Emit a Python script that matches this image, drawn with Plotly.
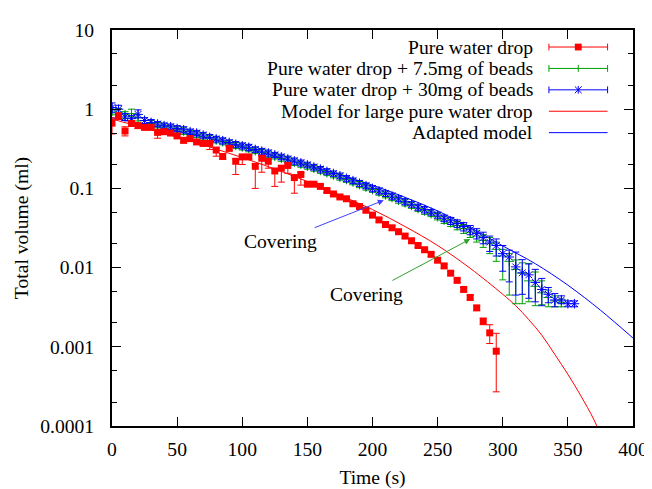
import plotly.graph_objects as go
import math

# ---------------- data ----------------
red_t = [0, 5, 10, 15, 20, 25, 30, 35, 40, 45, 50, 55, 60, 65, 70, 75, 80, 85, 90, 95,
         100, 105, 110, 115, 120, 125, 130, 135, 140, 145, 150, 155, 160, 165, 170, 175, 180, 185, 190, 195,
         200, 205, 210, 215, 220, 225, 230, 235, 240, 245, 250, 255, 260, 265, 270, 275, 280, 285, 290, 295]
red_v = [0.667, 0.82, 0.53, 0.66, 0.62, 0.59, 0.59, 0.51, 0.52, 0.50, 0.46, 0.405, 0.425, 0.386, 0.37, 0.37, 0.305, 0.253, 0.32, 0.22,
         0.25, 0.25, 0.19, 0.24, 0.22, 0.166, 0.18, 0.195, 0.137, 0.15, 0.113, 0.113, 0.106, 0.094, 0.085, 0.078, 0.074, 0.064, 0.059, 0.053,
         0.046, 0.040, 0.035, 0.0318, 0.0284, 0.025, 0.0218, 0.019, 0.0168, 0.0147, 0.0124, 0.0105, 0.0085, 0.0069, 0.0053, 0.0042, 0.0031, 0.0021, 0.0015, 0.00088]
red_hi = [0.11, 0.08, 0.07, 0.04, 0.05, 0.04, 0.04, 0.03, 0.04, 0.03, 0.03, 0.03, 0.03, 0.025, 0.025, 0.025, 0.02, 0.02, 0.02, 0.015,
          0.015, 0.015, 0.012, 0.015, 0.012, 0.01, 0.01, 0.01, 0.008, 0.008, 0.006, 0.006, 0.005, 0.005, 0.004, 0.004, 0.004, 0.003, 0.003, 0.003,
          0.003, 0.002, 0.002, 0.002, 0.0015, 0.0015, 0.0012, 0.001, 0.001, 0.0009, 0.0007, 0.0006, 0.0005, 0.0004, 0.0003, 0.0003, 0.0002, 0.0002, 0.0004, 0.0006]
red_lo = [0.18, 0.08, 0.07, 0.04, 0.05, 0.04, 0.04, 0.08, 0.04, 0.03, 0.03, 0.03, 0.03, 0.025, 0.025, 0.06, 0.05, 0.02, 0.02, 0.07,
          0.05, 0.015, 0.09, 0.08, 0.04, 0.06, 0.06, 0.04, 0.05, 0.04, 0.006, 0.006, 0.005, 0.005, 0.004, 0.004, 0.004, 0.003, 0.003, 0.003,
          0.003, 0.002, 0.002, 0.002, 0.0015, 0.0015, 0.0012, 0.001, 0.001, 0.0009, 0.0007, 0.0006, 0.0005, 0.0004, 0.0003, 0.0003, 0.0002, 0.0002, 0.0004, 0.00061]

blue_t = [0, 5, 10, 15, 20, 25, 30, 35, 40, 45, 50, 55, 60, 65, 70, 75, 80, 85, 90, 95,
          100, 105, 110, 115, 120, 125, 130, 135, 140, 145, 150, 155, 160, 165, 170, 175, 180, 185, 190, 195,
          200, 205, 210, 215, 220, 225, 230, 235, 240, 245, 250, 255, 260, 265, 270, 275, 280, 285, 290, 295,
          300, 305, 310, 315, 320, 325, 330, 335, 340, 345, 350, 355]
blue_v = [1.05, 1.00, 0.80, 0.76, 0.86, 0.72, 0.68, 0.65, 0.62, 0.60, 0.57, 0.55, 0.52, 0.50, 0.47, 0.44, 0.42, 0.40, 0.38, 0.36,
          0.345, 0.33, 0.31, 0.295, 0.28, 0.265, 0.25, 0.235, 0.222, 0.21, 0.198, 0.186, 0.175, 0.164, 0.154, 0.144, 0.134, 0.125, 0.116, 0.108,
          0.100, 0.093, 0.086, 0.080, 0.074, 0.068, 0.063, 0.058, 0.054, 0.050, 0.046, 0.042, 0.039, 0.036, 0.033, 0.030, 0.027, 0.024, 0.021, 0.019,
          0.015, 0.0136, 0.0102, 0.0086, 0.0081, 0.0065, 0.0053, 0.0046, 0.0039, 0.0039, 0.0035, 0.0035]
blue_hi = [0.15, 0.12, 0.08, 0.07, 0.12, 0.06, 0.06, 0.05, 0.05, 0.05, 0.05, 0.05, 0.04, 0.04, 0.04, 0.04, 0.035, 0.035, 0.03, 0.03,
           0.03, 0.03, 0.025, 0.025, 0.025, 0.02, 0.02, 0.02, 0.02, 0.018, 0.016, 0.015, 0.014, 0.013, 0.012, 0.012, 0.011, 0.01, 0.01, 0.009,
           0.008, 0.008, 0.007, 0.007, 0.006, 0.006, 0.005, 0.005, 0.005, 0.004, 0.004, 0.004, 0.004, 0.004, 0.004, 0.004, 0.004, 0.004, 0.004, 0.004,
           0.004, 0.003, 0.0055, 0.004, 0.003, 0.003, 0.002, 0.001, 0.0008, 0.0005, 0.0003, 0.0003]
blue_lo = [0.15, 0.12, 0.08, 0.07, 0.08, 0.06, 0.06, 0.05, 0.05, 0.05, 0.05, 0.05, 0.04, 0.04, 0.04, 0.04, 0.035, 0.035, 0.03, 0.03,
           0.03, 0.03, 0.025, 0.025, 0.025, 0.02, 0.02, 0.02, 0.02, 0.018, 0.016, 0.015, 0.014, 0.013, 0.012, 0.012, 0.011, 0.01, 0.01, 0.009,
           0.008, 0.008, 0.007, 0.007, 0.006, 0.006, 0.005, 0.005, 0.005, 0.004, 0.004, 0.004, 0.004, 0.004, 0.004, 0.004, 0.004, 0.004, 0.005, 0.005,
           0.006, 0.007, 0.0057, 0.004, 0.004, 0.0028, 0.002, 0.001, 0.0007, 0.0004, 0.0003, 0.0003]

green_t = [0, 5, 10, 15, 20, 25, 30, 35, 40, 45, 50, 55, 60, 65, 70, 75, 80, 85, 90, 95,
           100, 105, 110, 115, 120, 125, 130, 135, 140, 145, 150, 155, 160, 165, 170, 175, 180, 185, 190, 195,
           200, 205, 210, 215, 220, 225, 230, 235, 240, 245, 250, 255, 260, 265, 270, 275, 280, 285, 290, 295,
           300, 305, 310, 315, 320, 325, 330, 335, 340, 345]
green_v = [0.95, 0.92, 0.85, 0.88, 0.78, 0.72, 0.66, 0.63, 0.60, 0.58, 0.55, 0.53, 0.50, 0.48, 0.45, 0.43, 0.41, 0.39, 0.37, 0.35,
           0.335, 0.32, 0.30, 0.285, 0.27, 0.255, 0.24, 0.228, 0.215, 0.203, 0.191, 0.18, 0.169, 0.158, 0.148, 0.139, 0.13, 0.121, 0.112, 0.104,
           0.097, 0.09, 0.083, 0.077, 0.071, 0.066, 0.061, 0.056, 0.052, 0.048, 0.044, 0.040, 0.037, 0.034, 0.031, 0.028, 0.025, 0.022, 0.020, 0.017,
           0.014, 0.012, 0.0095, 0.0085, 0.0068, 0.0058, 0.0048, 0.0042, 0.0038, 0.0036]
green_hi = [0.1, 0.1, 0.08, 0.12, 0.07, 0.06, 0.06, 0.05, 0.05, 0.05, 0.05, 0.05, 0.04, 0.04, 0.04, 0.04, 0.035, 0.035, 0.03, 0.03,
            0.03, 0.03, 0.025, 0.025, 0.025, 0.02, 0.02, 0.02, 0.02, 0.018, 0.016, 0.015, 0.014, 0.013, 0.012, 0.012, 0.011, 0.01, 0.01, 0.009,
            0.008, 0.008, 0.007, 0.007, 0.006, 0.006, 0.005, 0.005, 0.005, 0.004, 0.004, 0.004, 0.004, 0.004, 0.004, 0.004, 0.004, 0.004, 0.004, 0.004,
            0.003, 0.003, 0.003, 0.003, 0.0045, 0.003, 0.002, 0.001, 0.0006, 0.0004]
green_lo = [0.1, 0.1, 0.08, 0.08, 0.07, 0.06, 0.06, 0.05, 0.05, 0.05, 0.05, 0.05, 0.04, 0.04, 0.04, 0.04, 0.035, 0.035, 0.03, 0.03,
            0.03, 0.03, 0.025, 0.025, 0.025, 0.02, 0.02, 0.02, 0.02, 0.018, 0.016, 0.015, 0.014, 0.013, 0.012, 0.012, 0.011, 0.01, 0.01, 0.009,
            0.008, 0.008, 0.007, 0.007, 0.006, 0.006, 0.005, 0.005, 0.005, 0.004, 0.004, 0.004, 0.004, 0.004, 0.004, 0.004, 0.004, 0.004, 0.005, 0.005,
            0.007, 0.0075, 0.006, 0.005, 0.0031, 0.0025, 0.0014, 0.001, 0.0006, 0.0004]

model_red_t = [0, 25, 50, 75, 100, 125, 150, 175, 200, 225, 250, 275, 300, 310, 320, 330, 340, 350, 360, 370, 380]
model_red_v = [0.75, 0.58, 0.445, 0.334, 0.245, 0.176, 0.122, 0.082, 0.054, 0.033, 0.019, 0.0098, 0.0046, 0.0033, 0.0022,
               0.0014, 0.0008, 0.00045, 0.00024, 0.00012, 0.00005]
model_blue_t = [0, 25, 50, 75, 100, 125, 150, 175, 200, 225, 250, 275, 300, 325, 350, 375, 400]
model_blue_v = [0.78, 0.64, 0.53, 0.425, 0.33, 0.255, 0.195, 0.148, 0.110, 0.077, 0.052, 0.032, 0.0188, 0.0112, 0.0060, 0.0029, 0.00129]

x_ticks = [0, 50, 100, 150, 200, 250, 300, 350, 400]
y_ticks = [0.0001, 0.001, 0.01, 0.1, 1, 10]
y_tick_text = ["0.0001", "0.001", "0.01", "0.1", "1", "10"]
y_minor = [m * 10.0 ** e for e in range(-4, 1) for m in (2, 5)]

legend_names = ["Pure water drop", "Pure water drop + 7.5mg of beads", "Pure water drop + 30mg of beads",
                "Model for large pure water drop", "Adapted model"]

RED = "#ff0000"
GREEN = "#00a000"
BLUE = "#0000ff"
FONT = "Liberation Serif"
FS = 19.6

fig = go.Figure()

def err(hi, lo, color):
    return dict(type="data", symmetric=False, array=hi, arrayminus=lo,
                color=color, thickness=1, width=3.5)

fig.add_trace(go.Scatter(x=model_red_t, y=model_red_v, mode="lines", line=dict(color=RED, width=1, shape="spline"),
                         showlegend=False))
fig.add_trace(go.Scatter(x=model_blue_t, y=model_blue_v, mode="lines", line=dict(color=BLUE, width=1, shape="spline"),
                         showlegend=False))
fig.add_trace(go.Scatter(x=green_t, y=green_v, mode="markers",
                         marker=dict(symbol="cross-thin", size=7, color=GREEN, line=dict(color=GREEN, width=1)),
                         error_y=err(green_hi, green_lo, GREEN), showlegend=False))
fig.add_trace(go.Scatter(x=blue_t, y=blue_v, mode="markers",
                         marker=dict(symbol="asterisk", size=8, color=BLUE, line=dict(color=BLUE, width=1)),
                         error_y=err(blue_hi, blue_lo, BLUE), showlegend=False))
fig.add_trace(go.Scatter(x=red_t, y=red_v, mode="markers",
                         marker=dict(symbol="square", size=7, color=RED, line=dict(width=0)),
                         error_y=err(red_hi, red_lo, RED), showlegend=False))

# ---------------- annotations (arrows) ----------------
fig.add_annotation(x=208.7, y=math.log10(0.0708), ax=129.5, ay=-1.666, axref="x", ayref="y",
                   text="Covering", showarrow=True, arrowhead=2, arrowsize=1.2, arrowwidth=1,
                   arrowcolor="#4040ff", standoff=0, startstandoff=4,
                   font=dict(family=FONT, size=FS, color="black"))
fig.add_annotation(x=275, y=math.log10(0.0229), ax=195.2, ay=-2.338, axref="x", ayref="y",
                   text="Covering", showarrow=True, arrowhead=2, arrowsize=1.2, arrowwidth=1,
                   arrowcolor="#30a030", standoff=0, startstandoff=4,
                   font=dict(family=FONT, size=FS, color="black"))

# ---------------- custom gnuplot-style legend ----------------
L, R, T, B = 100, 633, 20, 427
def px(xp):
    return (xp - L) / (R - L)
def py(yp):
    return (B - yp) / (B - T)

leg_colors = [RED, GREEN, BLUE, RED, BLUE]
text_right = 533
s0, s1, sm = 547, 607, 577
for i, (name, col) in enumerate(zip(legend_names, leg_colors)):
    yy = 37.5 + 22 * i
    fig.add_annotation(x=px(text_right), y=py(yy), xref="paper", yref="paper", text=name, showarrow=False,
                       xanchor="right", yanchor="middle", font=dict(family=FONT, size=FS, color="black"))
    fig.add_shape(type="line", xref="paper", yref="paper", x0=px(s0), x1=px(s1), y0=py(yy), y1=py(yy),
                  line=dict(color=col, width=1))
    if i < 3:
        for xc in (s0, s1):
            fig.add_shape(type="line", xref="paper", yref="paper", x0=px(xc), x1=px(xc),
                          y0=py(yy - 3.5), y1=py(yy + 3.5), line=dict(color=col, width=1))
    if i == 0:
        fig.add_shape(type="rect", xref="paper", yref="paper", x0=px(sm - 3.5), x1=px(sm + 3.5),
                      y0=py(yy + 3.5), y1=py(yy - 3.5), fillcolor=RED, line=dict(width=0))
    elif i == 1:
        fig.add_shape(type="line", xref="paper", yref="paper", x0=px(sm), x1=px(sm),
                      y0=py(yy - 3.5), y1=py(yy + 3.5), line=dict(color=GREEN, width=1))
    elif i == 2:
        for dx, dy in ((0, 4), (3.5, 3.5), (-3.5, 3.5)):
            fig.add_shape(type="line", xref="paper", yref="paper", x0=px(sm - dx), x1=px(sm + dx),
                          y0=py(yy - dy), y1=py(yy + dy), line=dict(color=BLUE, width=1))

fig.update_layout(
    width=652, height=489,
    margin=dict(l=L, r=652 - R, t=T, b=489 - B),
    paper_bgcolor="white", plot_bgcolor="white",
    font=dict(family=FONT, size=FS, color="black"),
)
fig.update_xaxes(range=[0, 400], tickvals=x_ticks, ticks="inside", ticklen=9, tickwidth=1, tickcolor="black",
                 showline=True, linecolor="black", linewidth=2, mirror="ticks", showgrid=False, zeroline=False,
                 ticklabelstandoff=4,
                 title=dict(text="Time (s)", standoff=12, font=dict(family=FONT, size=FS)))
fig.update_yaxes(type="log", range=[-4, 1], tickvals=y_ticks, ticktext=y_tick_text, ticks="inside", ticklen=9,
                 tickwidth=1, tickcolor="black", showline=True, linecolor="black", linewidth=2, mirror="ticks",
                 showgrid=False, zeroline=False, ticklabelstandoff=12,
                 minor=dict(tickvals=y_minor, ticks="inside", ticklen=5, tickcolor="black", tickwidth=1, showgrid=False),
                 title=dict(text="Total volume (ml)", standoff=6, font=dict(family=FONT, size=FS)))

fig.write_html("out.html")
